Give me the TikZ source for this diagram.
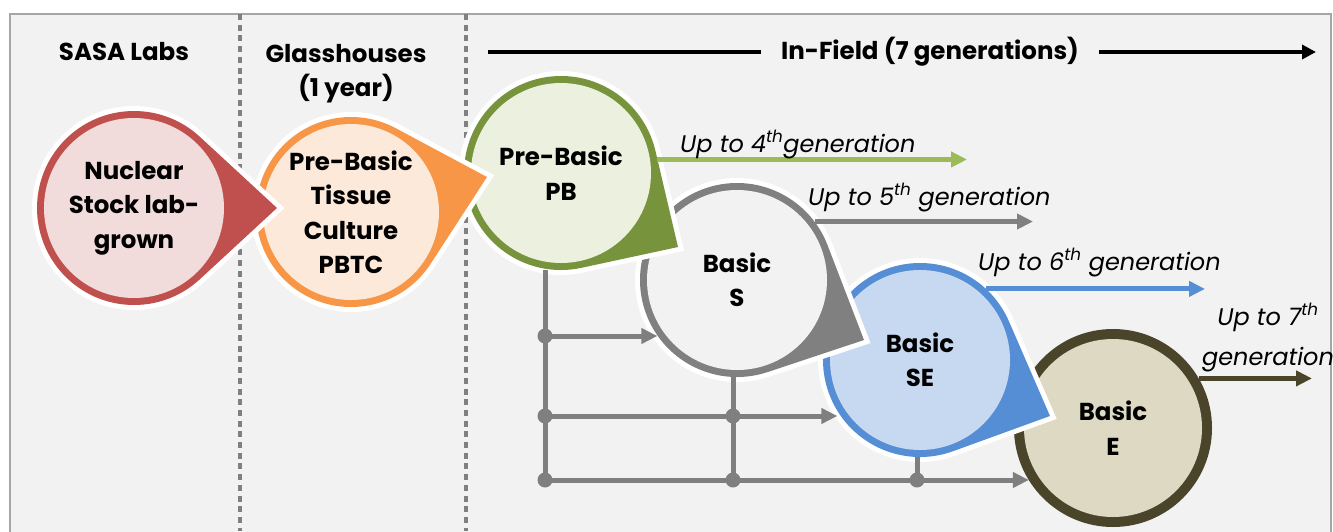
\documentclass[tikz,border=0pt]{standalone}
\usepackage{fontspec}
\setmainfont{Poppins}
\usetikzlibrary{arrows.meta,calc}
\definecolor{panelbg}{HTML}{F2F2F2}
\definecolor{panelborder}{HTML}{A6A6A6}
\definecolor{sepgray}{HTML}{808080}
\definecolor{gridgray}{HTML}{7F7F7F}
\definecolor{redring}{HTML}{C0504D}
\definecolor{redfill}{HTML}{F2DCDB}
\definecolor{orring}{HTML}{F79646}
\definecolor{orfill}{HTML}{FDE9D9}
\definecolor{grring}{HTML}{77933C}
\definecolor{grfill}{HTML}{EBF1DE}
\definecolor{gyring}{HTML}{808080}
\definecolor{gyfill}{HTML}{F2F2F2}
\definecolor{blring}{HTML}{558ED5}
\definecolor{blfill}{HTML}{C6D9F1}
\definecolor{olring}{HTML}{4A452A}
\definecolor{olfill}{HTML}{DDD9C3}
\definecolor{grarrow}{HTML}{9BBB59}

% #1 name, #2 cx, #3 cy, #4 R, #5 tip x, #6 tip y, #7 ring, #8 fill, #9 text
\newcommand{\bubble}[9]{%
  \pgfmathsetmacro{\bdx}{#5-#2}%
  \pgfmathsetmacro{\bdy}{#6-#3}%
  \pgfmathsetmacro{\bd}{veclen(\bdx,\bdy)}%
  \pgfmathsetmacro{\bth}{atan2(\bdy,\bdx)}%
  \pgfmathsetmacro{\bal}{acos(#4/\bd)}%
  \pgfmathsetmacro{\bsa}{\bth+\bal}%
  \pgfmathsetmacro{\bea}{\bth-\bal+360}%
  \pgfmathsetmacro{\bri}{#4-7}%
  \path[fill=#7, preaction={draw=white, line width=10pt, line join=miter, miter limit=10}]
    (#5,#6) -- ($(#2,#3)+(\bsa:#4)$) arc[start angle=\bsa, end angle=\bea, radius=#4] -- cycle;
  \fill[#8] (#2,#3) circle[radius=\bri];
  \node[circle, minimum size=2*#4, inner sep=0pt] (#1) at (#2,#3) {};
  \node[btext] at (#1) {#9};
}

\begin{document}
\begin{tikzpicture}[x=1pt,y=-1pt,
  btext/.style={font=\fontsize{24.5}{34.5}\selectfont\bfseries, align=center, inner sep=0pt},
  hdr/.style={font=\fontsize{24.5}{34}\selectfont\bfseries, align=center, inner sep=0pt},
  lbl/.style={font=\fontsize{24}{40}\selectfont\itshape, inner sep=0pt},
  sep/.style={draw=sepgray, line width=4.5pt, dash pattern=on 6pt off 4.7pt},
  grid/.style={draw=gridgray, line width=5pt},
  garrow/.style={line width=5pt, -{Triangle[length=16pt,width=15pt]}},
  dot/.style={fill=gridgray}
]
\useasboundingbox (0,0) rectangle (1333,531);
\fill[white] (0,0) rectangle (1333,531);
\path[fill=panelbg, draw=panelborder, line width=1.5pt] (10,14) rectangle (1331,545);

% separators
\coordinate (s1t) at (240,14); \coordinate (s1b) at (240,531);
\coordinate (s2t) at (466,14); \coordinate (s2b) at (466,531);
\draw[sep] (s1t) -- (s1b);
\draw[sep] (s2t) -- (s2b);

% headers
\node[hdr] (sasa) at (124,52) {SASA Labs};
\node[hdr] (glass) at (346,74) {Glasshouses\\(1 year)};
\coordinate (hfs) at (488,52);
\coordinate (hfe) at (1316,52);
\draw[line width=4pt, -{Triangle[length=14pt,width=14pt]}] (hfs) -- (hfe);
\node[hdr, fill=panelbg, inner xsep=20pt, inner ysep=6pt] (infield) at (930,52) {In-Field (7 generations)};

% circle E (back)
\fill[olring] (1113,428) circle[radius=99];
\fill[olfill] (1113,428) circle[radius=89];
\node[circle, minimum size=198, inner sep=0pt] (e) at (1113,428) {};
\node[btext] at (e) {Basic\\E};

\bubble{se}{920}{360}{97}{1050}{416}{blring}{blfill}{Basic\\SE}
\bubble{s}{737}{280}{97}{864}{340}{gyring}{gyfill}{Basic\\S}
\bubble{pb}{561}{173}{97}{678}{247}{grring}{grfill}{Pre-Basic\\PB}
\bubble{pbtc}{351}{212}{95}{487}{177}{orring}{orfill}{Pre-Basic\\Tissue\\Culture\\PBTC}
\bubble{nuc}{134}{208}{97}{277}{208}{redring}{redfill}{Nuclear\\Stock lab-\\grown}

% grid connectors
\coordinate (j11) at (545,336);
\coordinate (j12) at (545,416);
\coordinate (j13) at (545,480);
\coordinate (j22) at (733,416);
\coordinate (j23) at (733,480);
\coordinate (j33) at (917,480);
\draw[grid] (pb.south -| j11) -- (j13);
\draw[grid] (s.south -| j22) -- (j23);
\draw[grid] (se.south -| j33) -- (j33);
\draw[garrow, draw=gridgray] (j11) -- (j11 -| s.215);
\draw[garrow, draw=gridgray, shorten >=3pt] (j12) -- (j12 -| se.215);
\draw[garrow, draw=gridgray] (j13) -- (j13 -| e.212);
\foreach \j in {j11,j12,j13,j22,j23,j33} \fill[dot] (\j) circle[radius=7.5];

% generation arrows
\coordinate (g4) at (967,159);
\coordinate (g5) at (1033,223);
\coordinate (g6) at (1205,289);
\coordinate (g7) at (1312,384);
\draw[garrow, draw=grarrow] (pb.8) -- (pb.8 -| g4);
\draw[garrow, draw=gyring] (s.37) -- (s.37 -| g5);
\draw[garrow, draw=blring] (se.47) -- (se.47 -| g6);
\draw[garrow, draw=olring] (e.30) -- (e.30 -| g7);

\node[lbl, anchor=base west] (l4) at (680,152) {Up to 4\textsuperscript{th}generation};
\node[lbl, anchor=base west] (l5) at (808,205) {Up to 5\textsuperscript{th} generation};
\node[lbl, anchor=base west] (l6) at (978,270) {Up to 6\textsuperscript{th} generation};
\node[lbl, anchor=base, align=center] (l7) at (1268,365) {Up to 7\textsuperscript{th}\\generation};
\end{tikzpicture}
\end{document}
